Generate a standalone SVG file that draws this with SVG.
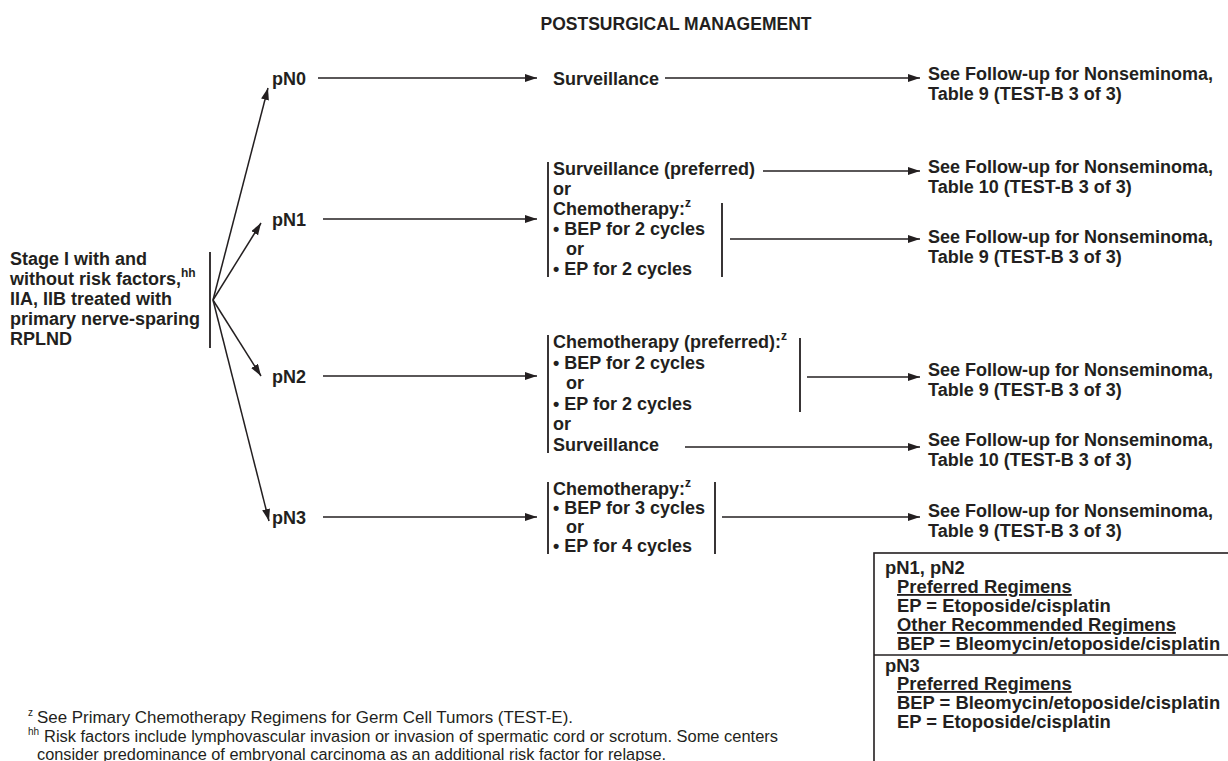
<svg xmlns="http://www.w3.org/2000/svg" width="1228" height="761" viewBox="0 0 1228 761">
  <style>
    text { font-family: "Liberation Sans", Arial, Helvetica, sans-serif; fill: #231f20; }
    .b { font-weight: bold; font-size: 18px; }
    .k { font-weight: bold; font-size: 18.4px; }
    .title { font-weight: bold; font-size: 17.5px; }
    .sup { font-size: 12px; }
    .fn { font-size: 16px; }
    .fnsup { font-size: 10px; }
    .u { text-decoration: underline; }
    .conn line { stroke: #231f20; stroke-width: 1.5; fill: none; }
    .arrow { marker-end: url(#ah); }
    .bar { stroke: #231f20; stroke-width: 1.8; }
    .frame { fill: none; stroke: #231f20; stroke-width: 1.6; }
  </style>
  <defs>
    <marker id="ah" markerUnits="userSpaceOnUse" markerWidth="13" markerHeight="9" refX="12" refY="4" orient="auto">
      <path d="M0,0 L12,4 L0,8 z" fill="#231f20"/>
    </marker>
  </defs>

  <!-- heading -->
  <text class="title" x="676" y="30" text-anchor="middle">POSTSURGICAL MANAGEMENT</text>

  <!-- starting condition -->
  <g id="start">
    <text class="b" x="10" y="265">Stage I with and</text>
    <text class="b" x="10" y="285">without risk factors,<tspan class="sup" dy="-8">hh</tspan></text>
    <text class="b" x="10" y="305">IIA, IIB treated with</text>
    <text class="b" x="10" y="325">primary nerve-sparing</text>
    <text class="b" x="10" y="345">RPLND</text>
    <line class="bar" x1="210" y1="252" x2="210" y2="348"/>
  </g>

  <!-- pathologic stage labels -->
  <g id="pN0"><text class="b" x="272" y="85">pN0</text></g>
  <g id="pN1"><text class="b" x="272" y="226">pN1</text></g>
  <g id="pN2"><text class="b" x="272" y="383">pN2</text></g>
  <g id="pN3"><text class="b" x="272" y="524">pN3</text></g>

  <!-- management options -->
  <g id="mgmt-pN0">
    <text class="b" x="553" y="85">Surveillance</text>
  </g>

  <g id="mgmt-pN1">
    <line class="bar" x1="548" y1="162" x2="548" y2="277"/>
    <line class="bar" x1="722" y1="203" x2="722" y2="277"/>
    <text class="b" x="553" y="175">Surveillance (preferred)</text>
    <text class="b" x="553" y="195">or</text>
    <text class="b" x="553" y="215">Chemotherapy:<tspan class="sup" dy="-8">z</tspan></text>
    <text class="b" x="553" y="235">• BEP for 2 cycles</text>
    <text class="b" x="566" y="255">or</text>
    <text class="b" x="553" y="275">• EP for 2 cycles</text>
  </g>

  <g id="mgmt-pN2">
    <line class="bar" x1="548" y1="335" x2="548" y2="453"/>
    <line class="bar" x1="800" y1="338" x2="800" y2="412"/>
    <text class="b" x="553" y="348">Chemotherapy (preferred):<tspan class="sup" dy="-8">z</tspan></text>
    <text class="b" x="553" y="369">• BEP for 2 cycles</text>
    <text class="b" x="566" y="389">or</text>
    <text class="b" x="553" y="410">• EP for 2 cycles</text>
    <text class="b" x="553" y="430">or</text>
    <text class="b" x="553" y="451">Surveillance</text>
  </g>

  <g id="mgmt-pN3">
    <line class="bar" x1="548" y1="482" x2="548" y2="554"/>
    <line class="bar" x1="715" y1="482" x2="715" y2="554"/>
    <text class="b" x="553" y="495">Chemotherapy:<tspan class="sup" dy="-8">z</tspan></text>
    <text class="b" x="553" y="514">• BEP for 3 cycles</text>
    <text class="b" x="566" y="533">or</text>
    <text class="b" x="553" y="552">• EP for 4 cycles</text>
  </g>

  <!-- follow-up references -->
  <g id="fu-pN0">
    <text class="b" x="928" y="80">See Follow-up for Nonseminoma,</text>
    <text class="b" x="928" y="100">Table 9 (TEST-B 3 of 3)</text>
  </g>
  <g id="fu-pN1-surv">
    <text class="b" x="928" y="173">See Follow-up for Nonseminoma,</text>
    <text class="b" x="928" y="193">Table 10 (TEST-B 3 of 3)</text>
  </g>
  <g id="fu-pN1-chemo">
    <text class="b" x="928" y="243">See Follow-up for Nonseminoma,</text>
    <text class="b" x="928" y="263">Table 9 (TEST-B 3 of 3)</text>
  </g>
  <g id="fu-pN2-chemo">
    <text class="b" x="928" y="376">See Follow-up for Nonseminoma,</text>
    <text class="b" x="928" y="396">Table 9 (TEST-B 3 of 3)</text>
  </g>
  <g id="fu-pN2-surv">
    <text class="b" x="928" y="446">See Follow-up for Nonseminoma,</text>
    <text class="b" x="928" y="466">Table 10 (TEST-B 3 of 3)</text>
  </g>
  <g id="fu-pN3">
    <text class="b" x="928" y="517">See Follow-up for Nonseminoma,</text>
    <text class="b" x="928" y="537">Table 9 (TEST-B 3 of 3)</text>
  </g>

  <!-- regimen key -->
  <g id="regimens">
    <rect class="frame" x="874" y="553" width="370" height="220"/>
    <line class="frame" x1="874" y1="655" x2="1244" y2="655"/>
    <text class="k" x="885" y="574">pN1, pN2</text>
    <text class="k u" x="897" y="593">Preferred Regimens</text>
    <text class="k" x="897" y="612">EP = Etoposide/cisplatin</text>
    <text class="k u" x="897" y="631">Other Recommended Regimens</text>
    <text class="k" x="897" y="650">BEP = Bleomycin/etoposide/cisplatin</text>
    <text class="k" x="885" y="672">pN3</text>
    <text class="k u" x="897" y="690">Preferred Regimens</text>
    <text class="k" x="897" y="709">BEP = Bleomycin/etoposide/cisplatin</text>
    <text class="k" x="897" y="728">EP = Etoposide/cisplatin</text>
  </g>

  <!-- connectors -->
  <g id="connectors" class="conn">
    <line class="arrow" x1="213" y1="300" x2="268" y2="88"/>
    <line class="arrow" x1="213" y1="300" x2="261" y2="223"/>
    <line class="arrow" x1="213" y1="300" x2="261" y2="376"/>
    <line class="arrow" x1="213" y1="300" x2="269" y2="521"/>

    <line class="arrow" x1="318" y1="78" x2="537" y2="78"/>
    <line class="arrow" x1="665" y1="78" x2="920" y2="78"/>

    <line class="arrow" x1="323" y1="219" x2="537" y2="219"/>
    <line class="arrow" x1="763" y1="171" x2="920" y2="171"/>
    <line class="arrow" x1="730" y1="239" x2="920" y2="239"/>

    <line class="arrow" x1="323" y1="376" x2="537" y2="376"/>
    <line class="arrow" x1="807" y1="377" x2="920" y2="377"/>
    <line class="arrow" x1="685" y1="447" x2="920" y2="447"/>

    <line class="arrow" x1="323" y1="517" x2="537" y2="517"/>
    <line class="arrow" x1="722" y1="517" x2="920" y2="517"/>
  </g>

  <!-- footnotes -->
  <g id="footnotes">
    <text class="fnsup" x="28" y="716">z</text>
    <text class="fn" x="37" y="723" textLength="536" lengthAdjust="spacingAndGlyphs">See Primary Chemotherapy Regimens for Germ Cell Tumors (TEST-E).</text>
    <text class="fnsup" x="28" y="735">hh</text>
    <text class="fn" x="44" y="742" textLength="734" lengthAdjust="spacingAndGlyphs">Risk factors include lymphovascular invasion or invasion of spermatic cord or scrotum. Some centers</text>
    <text class="fn" x="37" y="760" textLength="629" lengthAdjust="spacingAndGlyphs">consider predominance of embryonal carcinoma as an additional risk factor for relapse.</text>
  </g>
</svg>
